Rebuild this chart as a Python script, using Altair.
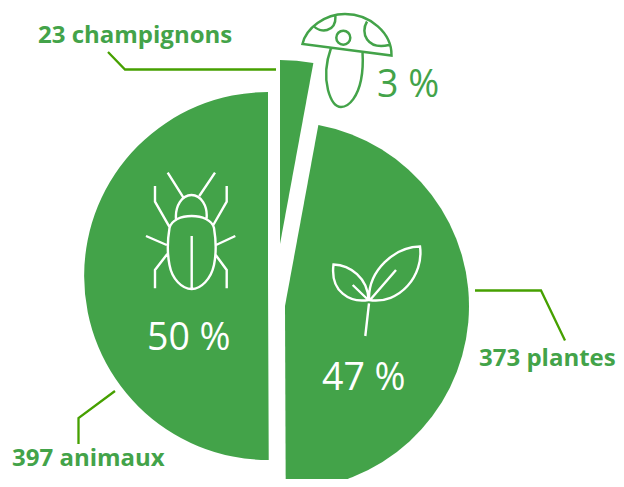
import math
import altair as alt
import numpy as np
import pandas as pd

# --- data ---
groups = ["champignons", "plantes", "animaux"]
counts = [23, 373, 397]
percents = ["3 %", "47 %", "50 %"]

# --- layout (page pixels, minus the 8px margin) ---
M = 8
GREEN = "#43a349"
LEAD = "#46a000"
RADIUS = 184
centres_x = [280, 285, 268]
centres_y = [244, 306, 276]
count_x = [38, 479, 12]
count_y = [43, 366, 466]
pct_x = [377, 322, 147]
pct_y = [97, 390, 350]
pct_colors = [GREEN, "#ffffff", "#ffffff"]

leaders = [
    [(108, 52), (125, 69.5), (276, 69.5)],
    [(475, 290.5), (541, 290.5), (565, 340.5)],
    [(115, 391), (78.5, 418), (78.5, 444)],
]

mushroom = (
    "M302.5 44 C306 28 325 14 345 14 C370 14 392 33 391.5 55.5 Z "
    "M313.5 26 C320 33 336 33 335.5 16 "
    "M367 21.5 C360 33 367 50 389 45 "
    "M350.3 37.7 A7 7 0 1 1 336.3 37.7 A7 7 0 1 1 350.3 37.7 Z "
    "M331 48 C326 62 325 78 328 90 C331 101 336 107 341 107 "
    "C350 107 358 95 361 80 C363 70 363 60 362.5 52"
)
beetle = (
    "M191.7 216 C202 216 212 220 214 228 C216 240 216 255 214 265 "
    "C211 279 201 289 191.7 289 C182 289 172 279 169.5 265 "
    "C167.5 255 167.5 240 169.5 228 C171.5 220 181 216 191.7 216 Z "
    "M176 219 C175 206 182 195 191.5 195 C201 195 208 206 206.5 219 "
    "M191.7 236 L191.7 289 "
    "M167.7 172.7 L183.3 197.3 M215 172.7 L199.3 196 "
    "M155 186 L155 201.7 L169.3 226.7 M226.7 186 L226.7 201.7 L213.3 225 "
    "M146 236 L166.7 245 M235.3 236 L216 245 "
    "M155 288.3 L155 270 L167.3 254 M226.7 288.3 L226.7 270 L215 254"
)
plant = (
    "M333.5 264.5 C350 265 368 278 368.5 300 C350 303 330 292 333.5 264.5 Z "
    "M369 300 C368 270 395 247 420 246.5 C424 275 400 305 369 300 Z "
    "M352.7 285 L368.3 300 M396 270 L370 300 M369 303.3 L365.3 336"
)

ends = np.cumsum(counts)
starts = ends - np.array(counts)

slices = pd.DataFrame({
    "group": groups,
    "start": starts,
    "end": ends,
    "cx": [v - M for v in centres_x],
    "cy": [v - M for v in centres_y],
})

arcs = (
    alt.Chart(slices)
    .mark_arc(outerRadius=RADIUS, innerRadius=0, fill=GREEN)
    .encode(
        theta=alt.Theta("start:Q", scale=alt.Scale(domain=[0, int(ends[-1])], range=[0, 2 * math.pi])),
        theta2=alt.Theta2("end:Q"),
        x=alt.X("cx:Q", scale=None),
        y=alt.Y("cy:Q", scale=None),
    )
)

lead_rows = [
    {"id": i, "o": j, "x": x - M, "y": y - M}
    for i, path in enumerate(leaders)
    for j, (x, y) in enumerate(path)
]
lead = (
    alt.Chart(pd.DataFrame(lead_rows))
    .mark_line(color=LEAD, strokeWidth=2.3, strokeJoin="miter", interpolate="linear")
    .encode(
        x=alt.X("x:Q", scale=None),
        y=alt.Y("y:Q", scale=None),
        detail="id:N",
        order="o:Q",
    )
)

counts_df = pd.DataFrame({
    "label": [f"{c} {g}" for c, g in zip(counts, groups)],
    "x": [v - M for v in count_x],
    "y": [v - M for v in count_y],
})
count_text = (
    alt.Chart(counts_df)
    .mark_text(font="Open Sans", fontWeight="bold", fontSize=24, color=GREEN, align="left", baseline="alphabetic")
    .encode(x=alt.X("x:Q", scale=None), y=alt.Y("y:Q", scale=None), text="label:N")
)

pct_df = pd.DataFrame({
    "label": percents,
    "x": [v - M for v in pct_x],
    "y": [v - M for v in pct_y],
    "color": pct_colors,
})
pct_text = (
    alt.Chart(pct_df)
    .mark_text(font="Open Sans", fontSize=37.5, align="left", baseline="alphabetic")
    .encode(
        x=alt.X("x:Q", scale=None),
        y=alt.Y("y:Q", scale=None),
        text="label:N",
        color=alt.Color("color:N", scale=None),
    )
)

icons = pd.DataFrame({
    "shape": [mushroom, beetle, plant],
    "color": [GREEN, "#ffffff", "#ffffff"],
    "w": [2.5, 2.4, 2.4],
})
icon_layer = (
    alt.Chart(icons)
    .mark_point(filled=False, opacity=1, size=4, strokeJoin="miter")
    .encode(
        x=alt.value(-M),
        y=alt.value(-M),
        shape=alt.Shape("shape:N", scale=None),
        stroke=alt.Stroke("color:N", scale=None),
        strokeWidth=alt.StrokeWidth("w:Q", scale=None),
    )
)

chart = (
    alt.layer(arcs, lead, icon_layer, count_text, pct_text)
    .properties(
        width=608,
        height=471,
        padding=0,
        background="#ffffff",
        autosize=alt.AutoSizeParams(type="none"),
    )
    .configure_view(stroke=None)
)
chart.save("out.html", embed_options={"renderer": "svg", "actions": False})
